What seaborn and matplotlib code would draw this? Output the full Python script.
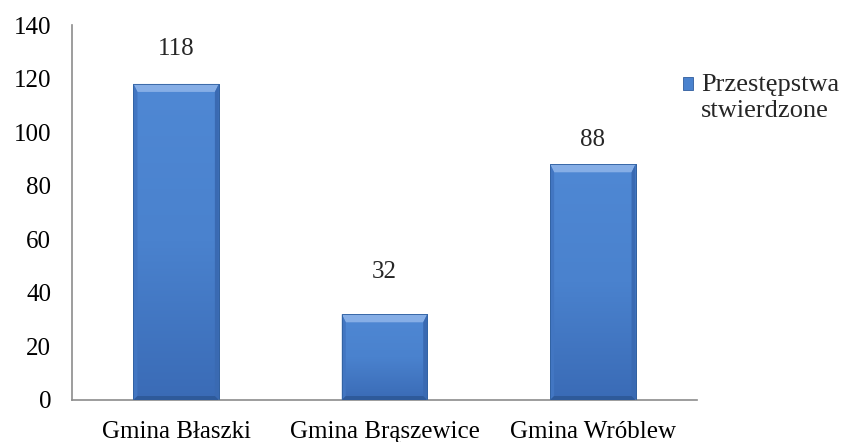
import matplotlib
matplotlib.use("Agg")
import matplotlib.pyplot as plt
from matplotlib.patches import Polygon, Rectangle
from matplotlib.legend_handler import HandlerPatch
from matplotlib.colors import LinearSegmentedColormap
import numpy as np
import seaborn as sns
import pandas as pd

categories = ["Gmina Błaszki", "Gmina Brąszewice", "Gmina Wróblew"]
values = [118, 32, 88]
series_name = "Przestępstwa\nstwierdzone"
yticks = [0, 20, 40, 60, 80, 100, 120, 140]

# style: vertical offset (points) of each value label above its bar
label_offsets = [25, 30.5, 17.5]

sns.set_style("white")
plt.rcParams['font.family'] = ['Liberation Serif', 'DejaVu Serif']

df = pd.DataFrame({"cat": categories, "val": values, "series": series_name})

W, H = 843, 442
fig = plt.figure(figsize=(W / 100, H / 100), dpi=100)
ax_l, ax_r, ax_t, ax_b = 72, 697, 25, 400
ax = fig.add_axes([ax_l / W, (H - ax_b) / H, (ax_r - ax_l) / W, (ax_b - ax_t) / H])

face = "#4A82CE"
sns.barplot(data=df, x="cat", y="val", hue="series", ax=ax, width=0.41,
            palette=[face], saturation=1, edgecolor="#2F5C9C", linewidth=0.6,
            legend=True)

ax.set_ylim(0, 140)
ax.set_xlim(-0.5, 2.5)

# vertical gradient + bevel effect derived from the drawn bar patches
grad_cmap = LinearSegmentedColormap.from_list("g", ["#3A6BB6", "#4A82CE", "#4F88D4"])
grad = np.linspace(0, 1, 256).reshape(-1, 1)
px_x = (ax_r - ax_l) / 3.0       # pixels per x data unit
px_y = (ax_b - ax_t) / 140.0     # pixels per y data unit
bt, bs, bb = 8 / px_y, 4 / px_x, 4 / px_y
for c in ax.containers:
    for p in c.patches:
        x0, y0 = p.get_x(), p.get_y()
        x1, y1 = x0 + p.get_width(), y0 + p.get_height()
        im = ax.imshow(grad, cmap=grad_cmap, origin="lower", aspect="auto",
                       extent=(x0, x1, y0, y1), zorder=2.5, interpolation="bilinear")
        im.set_clip_path(p)
        top = Polygon([(x0, y1), (x1, y1), (x1 - bs, y1 - bt), (x0 + bs, y1 - bt)],
                      closed=True, facecolor="#86AEE6", edgecolor="none", zorder=3)
        left = Polygon([(x0, y0), (x0, y1), (x0 + bs, y1 - bt), (x0 + bs, y0 + bb)],
                       closed=True, facecolor="#4276C2", edgecolor="none", zorder=3)
        right = Polygon([(x1, y0), (x1, y1), (x1 - bs, y1 - bt), (x1 - bs, y0 + bb)],
                        closed=True, facecolor="#3A6AB2", edgecolor="none", zorder=3)
        bottom = Polygon([(x0, y0), (x1, y0), (x1 - bs, y0 + bb), (x0 + bs, y0 + bb)],
                         closed=True, facecolor="#2E5A9A", edgecolor="none", zorder=3)
        for poly in (top, left, right, bottom):
            ax.add_patch(poly)
        outline = plt.Rectangle((x0, y0), x1 - x0, y1 - y0, fill=False,
                                edgecolor="#30609F", linewidth=0.6, zorder=3.5)
        ax.add_patch(outline)
        p.set_zorder(2)
ax.set_xlim(-0.5, 2.5)
ax.set_ylim(0, 140)

for c in ax.containers:
    for p, v, off in zip(c.patches, values, label_offsets):
        ax.annotate(f"{v:g}", xy=(p.get_x() + p.get_width() / 2, p.get_height()),
                    xytext=(0, off), textcoords="offset points",
                    ha="center", va="center", fontsize=18)

ax.set_yticks(yticks)
ax.set_xlabel("")
ax.set_ylabel("")
ax.tick_params(axis='both', labelsize=18, colors='black')
ax.tick_params(axis='y', length=5, width=1.2, color='#8c8c8c', direction='out', pad=10)
ax.tick_params(axis='x', length=0, pad=15)
ax.set_xticks([-0.5, 0.5, 1.5, 2.5], minor=True)
ax.tick_params(axis='x', which='minor', length=5, width=1.2, color='#8c8c8c', direction='out')
for s in ["top", "right"]:
    ax.spines[s].set_visible(False)
for s in ["left", "bottom"]:
    ax.spines[s].set_color("#8c8c8c")
    ax.spines[s].set_linewidth(1.2)


def raised_square(legend, orig_handle, xdescent, ydescent, width, height, fontsize):
    # legend marker sits beside the first line of the two-line label
    return Rectangle((-xdescent, -ydescent + 9.5), width, height)


leg = ax.legend(loc="upper left", bbox_to_anchor=(683 / W, 1 - 74 / H),
                bbox_transform=fig.transFigure, frameon=False,
                fontsize=19, handlelength=0.38, handleheight=0.38, handletextpad=0.3,
                borderaxespad=0, borderpad=0,
                handler_map={Rectangle: HandlerPatch(patch_func=raised_square)})
for t in leg.get_texts():
    t.set_linespacing(1.25)
for h in leg.legend_handles:
    h.set_facecolor(face)
    h.set_edgecolor("#2F5C9C")

fig.savefig("out.png", dpi=100)
